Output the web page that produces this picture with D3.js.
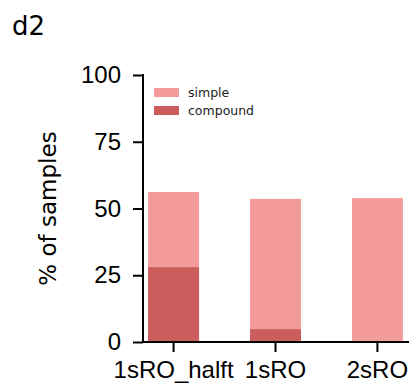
<!DOCTYPE html>
<html>
<head>
<meta charset="utf-8">
<script src="https://cdn.jsdelivr.net/npm/d3@7"></script>
<style>
  body { margin: 0; background: #fff; }
  svg { display: block; font-family: "DejaVu Sans", sans-serif; }
</style>
</head>
<body>
<div id="chart"></div>
<script>
var categories = ['1sRO_halft', '1sRO', '2sRO'];
var simpleValues = [56.2, 53.6, 53.9];     // total height of each bar
var compoundValues = [28.0, 4.8, 0];
var yTicks = [0, 25, 50, 75, 100];
var seriesNames = ['simple', 'compound'];
var seriesColors = ['#f39a9a', '#cc5d5d'];

var width = 409, height = 390;
var plotLeft = 143, plotRight = 408, plotTop = 75, plotBottom = 342;

var svg = d3.select('#chart').append('svg')
  .attr('width', width)
  .attr('height', height);

var x = d3.scaleBand()
  .domain(categories)
  .range([plotLeft, plotRight])
  .paddingInner(0.5)
  .paddingOuter(0.05);

var y = d3.scaleLinear()
  .domain([0, 100])
  .range([plotBottom, plotTop]);

// bars: simple is the full stack height, compound drawn on top from 0
var bars = svg.append('g');
bars.selectAll('rect.simple')
  .data(categories)
  .enter().append('rect')
  .attr('class', 'simple')
  .attr('x', function(d) { return x(d); })
  .attr('width', x.bandwidth())
  .attr('y', function(d, i) { return y(simpleValues[i]); })
  .attr('height', function(d, i) { return y(0) - y(simpleValues[i]); })
  .attr('fill', seriesColors[0]);

bars.selectAll('rect.compound')
  .data(categories)
  .enter().append('rect')
  .attr('class', 'compound')
  .attr('x', function(d) { return x(d); })
  .attr('width', x.bandwidth())
  .attr('y', function(d, i) { return y(compoundValues[i]); })
  .attr('height', function(d, i) { return y(0) - y(compoundValues[i]); })
  .attr('fill', seriesColors[1]);

// axes
var yAxis = svg.append('g')
  .attr('transform', 'translate(' + plotLeft + ',0)')
  .call(d3.axisLeft(y).tickValues(yTicks).tickSize(10).tickPadding(12).tickSizeOuter(0));

var xAxis = svg.append('g')
  .attr('transform', 'translate(0,' + plotBottom + ')')
  .call(d3.axisBottom(x).tickSize(10).tickPadding(9).tickSizeOuter(0));

[yAxis, xAxis].forEach(function(a) {
  a.selectAll('path, line').attr('stroke', '#000').attr('stroke-width', 2);
  a.selectAll('text').attr('fill', '#000').style('font-size', '24px');
});
yAxis.select('.domain').attr('d', 'M0,' + (plotTop - 1) + 'V' + (plotBottom + 1));
xAxis.select('.domain').attr('d', 'M' + (plotLeft - 1) + ',0H' + width);

// y label
svg.append('text')
  .attr('transform', 'translate(56,' + ((plotTop + plotBottom) / 2) + ') rotate(-90)')
  .attr('text-anchor', 'middle')
  .style('font-size', '23px')
  .text('% of samples');

// title
svg.append('text')
  .attr('x', 12)
  .attr('y', 35)
  .style('font-size', '26px')
  .text('d2');

// legend
var legend = svg.append('g').attr('transform', 'translate(154,88)');
seriesNames.forEach(function(name, i) {
  var g = legend.append('g').attr('transform', 'translate(0,' + (i * 18) + ')');
  g.append('rect')
    .attr('width', 25)
    .attr('height', 9)
    .attr('fill', seriesColors[i]);
  g.append('text')
    .attr('x', 34)
    .attr('y', 4.5)
    .attr('dy', '0.35em')
    .style('font-size', '12.5px')
    .attr('fill', '#222')
    .text(name);
});
</script>
</body>
</html>
